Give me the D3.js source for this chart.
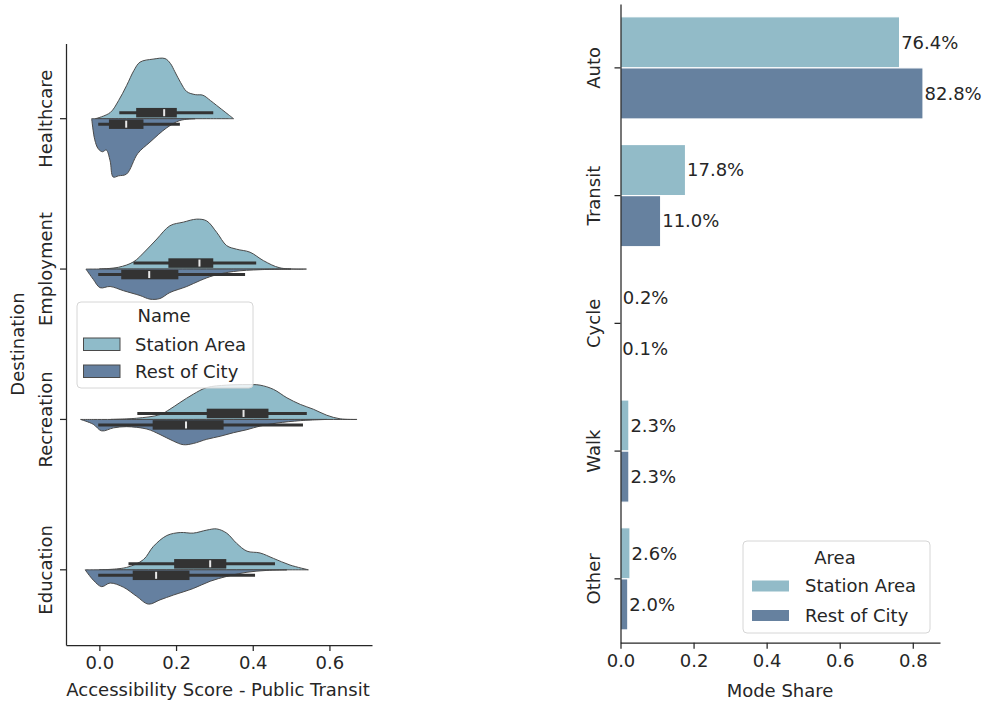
<!DOCTYPE html>
<html>
<head>
<meta charset="utf-8">
<script src="https://cdn.jsdelivr.net/npm/d3@7/dist/d3.min.js"></script>
<style>
  body { margin: 0; background: #fff; }
  svg { display: block; font-family: "DejaVu Sans", sans-serif; }
</style>
</head>
<body>
<svg id="chart" width="987" height="704"></svg>
<script>
// ---------------- DATA ----------------
const destinations = ["Healthcare", "Employment", "Recreation", "Education"];
const groups = ["Station Area", "Rest of City"];
const xTicksLeft = [0, 0.2, 0.4, 0.6];

// half-violin density profiles: [score, relative half-width]
const healthcareStation = [[-0.01,0],[0.028,0.1],[0.05,0.3],[0.071,0.55],[0.09,0.8],[0.106,0.94],[0.14,0.99],[0.171,1.0],[0.185,0.92],[0.197,0.78],[0.212,0.6],[0.228,0.45],[0.25,0.4],[0.27,0.39],[0.29,0.3],[0.306,0.22],[0.33,0.1],[0.35,0]];
const healthcareRest = [[-0.02,0],[-0.012,0.35],[-0.003,0.5],[0.008,0.55],[0.018,0.52],[0.028,0.7],[0.036,0.97],[0.05,0.95],[0.071,0.92],[0.10,0.58],[0.132,0.39],[0.176,0.15],[0.21,0.03],[0.25,0]];
const employmentStation = [[0.0,0],[0.05,0.03],[0.089,0.12],[0.12,0.3],[0.150,0.5],[0.184,0.72],[0.219,0.78],[0.254,0.83],[0.28,0.8],[0.306,0.61],[0.332,0.39],[0.358,0.33],[0.393,0.28],[0.428,0.14],[0.471,0.02],[0.54,0]];
const employmentRest = [[-0.035,0],[-0.016,0.17],[0.002,0.31],[0.028,0.29],[0.063,0.36],[0.106,0.44],[0.132,0.5],[0.158,0.49],[0.184,0.39],[0.228,0.29],[0.263,0.19],[0.297,0.11],[0.35,0.04],[0.42,0.01],[0.5,0]];
const recreationStation = [[0.03,0],[0.097,0.02],[0.158,0.08],[0.184,0.17],[0.21,0.28],[0.245,0.42],[0.28,0.53],[0.332,0.57],[0.385,0.58],[0.419,0.57],[0.454,0.5],[0.489,0.36],[0.524,0.25],[0.558,0.17],[0.593,0.07],[0.628,0.01],[0.672,0]];
const recreationRest = [[-0.049,0],[-0.016,0.08],[0.006,0.19],[0.037,0.14],[0.071,0.12],[0.124,0.16],[0.158,0.25],[0.193,0.36],[0.219,0.42],[0.245,0.4],[0.28,0.33],[0.315,0.28],[0.35,0.22],[0.385,0.17],[0.419,0.11],[0.463,0.06],[0.524,0.02],[0.593,0]];
const educationStation = [[0.0,0],[0.071,0.04],[0.115,0.17],[0.141,0.39],[0.176,0.57],[0.211,0.62],[0.245,0.61],[0.28,0.66],[0.306,0.68],[0.332,0.61],[0.358,0.44],[0.385,0.31],[0.419,0.28],[0.454,0.19],[0.497,0.08],[0.545,0]];
const educationRest = [[-0.037,0],[-0.016,0.17],[0.006,0.28],[0.028,0.22],[0.063,0.29],[0.097,0.44],[0.128,0.57],[0.158,0.5],[0.193,0.42],[0.245,0.31],[0.289,0.19],[0.332,0.11],[0.385,0.04],[0.437,0.01],[0.489,0]];

// box stats: [whiskerLow, q1, median, q3, whiskerHigh]
const stationBox = [[0.052,0.096,0.169,0.202,0.297],[0.089,0.180,0.261,0.297,0.409],[0.099,0.280,0.376,0.441,0.541],[0.076,0.195,0.289,0.331,0.458]];
const restBox = [[-0.003,0.025,0.070,0.115,0.210],[-0.003,0.057,0.130,0.206,0.380],[-0.003,0.139,0.226,0.324,0.531],[-0.003,0.087,0.148,0.235,0.406]];

const modes = ["Auto", "Transit", "Cycle", "Walk", "Other"];
const stationShare = [0.764, 0.178, 0.002, 0.023, 0.026];
const restShare = [0.828, 0.110, 0.001, 0.023, 0.020];
const xTicksRight = [0, 0.2, 0.4, 0.6, 0.8];

// ---------------- STYLE ----------------
const colStation = "#8fbbc9";
const colRest = "#6580a0";
const txt = "#262626";
const fs = 18;

const svg = d3.select("#chart");

// ---------------- LEFT: split violins ----------------
const xL = d3.scaleLinear().domain([-0.087, 0.711]).range([66, 372]);
const yL = d3.scaleBand().domain(destinations).range([43.5, 645]);
const hs = yL.bandwidth() * 0.4;

const stationProfiles = [healthcareStation, employmentStation, recreationStation, educationStation];
const restProfiles = [healthcareRest, employmentRest, recreationRest, educationRest];

const gL = svg.append("g");
destinations.forEach((d, i) => {
  const c = yL(d) + yL.bandwidth() / 2;
  const up = d3.area().curve(d3.curveCatmullRom)
    .x(p => xL(p[0])).y0(c).y1(p => c - p[1] * hs);
  const dn = d3.area().curve(d3.curveCatmullRom)
    .x(p => xL(p[0])).y0(c).y1(p => c + p[1] * hs);
  gL.append("path").attr("d", up(stationProfiles[i]))
    .attr("fill", colStation).attr("stroke", "#4a4a4a").attr("stroke-width", 1);
  gL.append("path").attr("d", dn(restProfiles[i]))
    .attr("fill", colRest).attr("stroke", "#4a4a4a").attr("stroke-width", 1);
});

function drawBox(stats, cy) {
  const [wl, q1, med, q3, wh] = stats;
  gL.append("line").attr("x1", xL(wl)).attr("x2", xL(wh)).attr("y1", cy).attr("y2", cy)
    .attr("stroke", "#333").attr("stroke-width", 3);
  gL.append("rect").attr("x", xL(q1)).attr("width", xL(q3) - xL(q1))
    .attr("y", cy - 4.75).attr("height", 9.5).attr("fill", "#333");
  gL.append("rect").attr("x", xL(med) - 1).attr("width", 2)
    .attr("y", cy - 3.5).attr("height", 7).attr("fill", "#e8e8e8");
}
destinations.forEach((d, i) => {
  const c = yL(d) + yL.bandwidth() / 2;
  drawBox(stationBox[i], c - 6);
  drawBox(restBox[i], c + 5.5);
});

// axes left
const axL = gL.append("g").attr("transform", "translate(0,645)")
  .call(d3.axisBottom(xL).tickValues(xTicksLeft).tickFormat(d3.format(".1f")).tickSize(6).tickSizeOuter(0).tickPadding(5));
const ayL = gL.append("g").attr("transform", "translate(66,0)")
  .call(d3.axisLeft(yL).tickSize(6).tickSizeOuter(0).tickFormat(""));
[axL, ayL].forEach(a => {
  a.select(".domain").attr("stroke", txt).attr("stroke-width", 1.25);
  a.selectAll(".tick line").attr("stroke", txt).attr("stroke-width", 1.25);
  a.selectAll("text").attr("fill", txt).style("font-size", fs + "px").style("font-family", "DejaVu Sans");
});
destinations.forEach(d => {
  const c = yL(d) + yL.bandwidth() / 2;
  gL.append("text").attr("transform", `translate(46,${c}) rotate(-90)`)
    .attr("text-anchor", "middle").attr("dy", "0.35em")
    .attr("fill", txt).style("font-size", fs + "px").text(d);
});
gL.append("text").attr("transform", "translate(18,344) rotate(-90)")
  .attr("text-anchor", "middle").attr("dy", "0.35em")
  .attr("fill", txt).style("font-size", fs + "px").text("Destination");
gL.append("text").attr("x", 218).attr("y", 696).attr("text-anchor", "middle")
  .attr("fill", txt).style("font-size", fs + "px").text("Accessibility Score - Public Transit");

// left legend
const lgL = svg.append("g");
lgL.append("rect").attr("x", 77).attr("y", 302).attr("width", 176).attr("height", 86)
  .attr("rx", 4).attr("fill", "#fff").attr("fill-opacity", 0.8).attr("stroke", "#d6d6d6");
lgL.append("text").attr("x", 164).attr("y", 316).attr("dy", "0.35em").attr("text-anchor", "middle")
  .attr("fill", txt).style("font-size", fs + "px").text("Name");
[colStation, colRest].forEach((col, i) => {
  lgL.append("rect").attr("x", 83.5).attr("y", 338 + i * 27).attr("width", 36.5).attr("height", 12.5)
    .attr("fill", col).attr("stroke", "#4a4a4a").attr("stroke-width", 1);
  lgL.append("text").attr("x", 135).attr("y", 344.5 + i * 27).attr("dy", "0.35em")
    .attr("fill", txt).style("font-size", fs + "px").text(groups[i]);
});

// ---------------- RIGHT: bars ----------------
const xR = d3.scaleLinear().domain([0, 0.8745]).range([620.5, 940]);
const yR = d3.scaleBand().domain(modes).range([4, 642.7]).paddingInner(0.2).paddingOuter(0.1);
const ySub = d3.scaleBand().domain(groups).range([0, yR.bandwidth()]);
const gR = svg.append("g");
const fmt = d3.format(".1%");
const seriesVals = [stationShare, restShare];
const barCols = ["#92bbc8", "#66819f"];
modes.forEach((m, i) => {
  groups.forEach((g, j) => {
    const v = seriesVals[j][i];
    const y0 = yR(m) + ySub(g);
    gR.append("rect").attr("x", xR(0)).attr("y", y0)
      .attr("width", Math.max(0, xR(v) - xR(0))).attr("height", ySub.bandwidth())
      .attr("fill", barCols[j]).attr("stroke", "#fff").attr("stroke-width", 1.2);
    gR.append("text").attr("x", xR(v) + 1.5).attr("y", y0 + ySub.bandwidth() / 2).attr("dy", "0.35em")
      .attr("fill", txt).style("font-size", fs + "px").text(fmt(v));
  });
});
const axR = gR.append("g").attr("transform", "translate(0,642.7)")
  .call(d3.axisBottom(xR).tickValues(xTicksRight).tickFormat(d3.format(".1f")).tickSize(6).tickSizeOuter(0).tickPadding(6));
const yRc = d3.scaleBand().domain(modes).range([4, 642.7]);
const ayR = gR.append("g").attr("transform", "translate(620.5,0)")
  .call(d3.axisLeft(yRc).tickSize(6).tickSizeOuter(0).tickFormat(""));
[axR, ayR].forEach(a => {
  a.select(".domain").attr("stroke", txt).attr("stroke-width", 1.25);
  a.selectAll(".tick line").attr("stroke", txt).attr("stroke-width", 1.25);
  a.selectAll("text").attr("fill", txt).style("font-size", fs + "px").style("font-family", "DejaVu Sans");
});
modes.forEach(m => {
  const c = yRc(m) + yRc.bandwidth() / 2;
  gR.append("text").attr("transform", `translate(594,${c}) rotate(-90)`)
    .attr("text-anchor", "middle").attr("dy", "0.35em")
    .attr("fill", txt).style("font-size", fs + "px").text(m);
});
gR.append("text").attr("x", 780).attr("y", 697).attr("text-anchor", "middle")
  .attr("fill", txt).style("font-size", fs + "px").text("Mode Share");

// right legend
const lgR = svg.append("g");
lgR.append("rect").attr("x", 743).attr("y", 541).attr("width", 187).attr("height", 92)
  .attr("rx", 4).attr("fill", "#fff").attr("fill-opacity", 0.8).attr("stroke", "#d6d6d6");
lgR.append("text").attr("x", 835).attr("y", 558).attr("dy", "0.35em").attr("text-anchor", "middle")
  .attr("fill", txt).style("font-size", fs + "px").text("Area");
barCols.forEach((col, i) => {
  lgR.append("rect").attr("x", 752).attr("y", 580.5 + i * 29.5).attr("width", 37).attr("height", 11)
    .attr("fill", col);
  lgR.append("text").attr("x", 805).attr("y", 586 + i * 29.5).attr("dy", "0.35em")
    .attr("fill", txt).style("font-size", fs + "px").text(groups[i]);
});
</script>
</body>
</html>
